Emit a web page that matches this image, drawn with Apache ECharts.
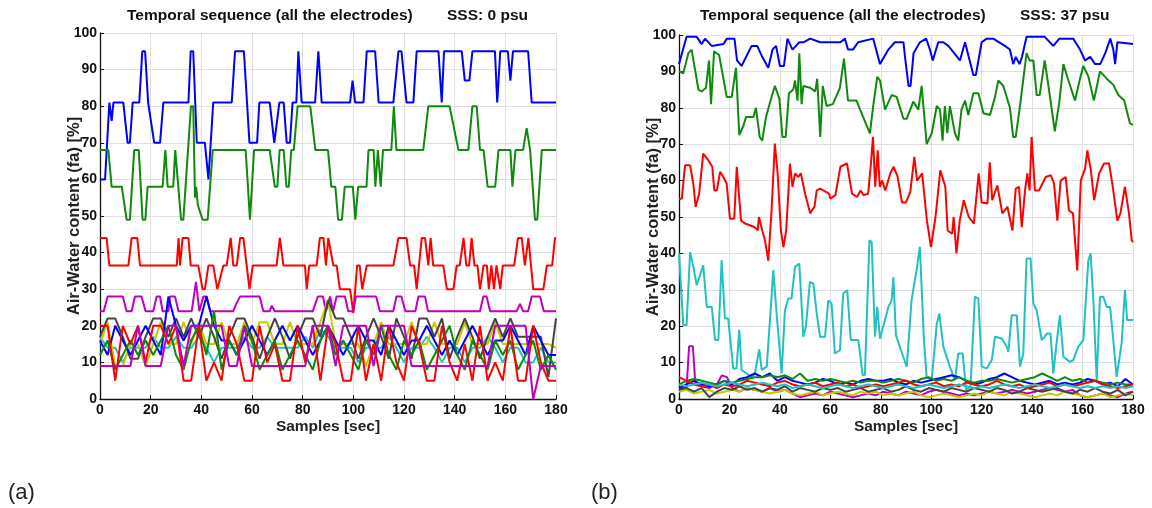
<!DOCTYPE html>
<html>
<head>
<meta charset="utf-8">
<script src="https://cdn.jsdelivr.net/npm/echarts@6/dist/echarts.min.js"></script>
<style>
  html, body { margin: 0; padding: 0; background: #fff; }
  #chart { width: 1152px; height: 508px; }
</style>
</head>
<body>
<div id="chart"></div>
<script>
// ---- panel (a): SSS 0 psu, step-like electrode readings [sec, %] ----
var aBlue = [[0,60],[2,60],[3.7,81],[4.6,76],[5.3,81],[9.2,81],[10.9,70],[11.8,70],[12.9,81],[15.5,81],[16.7,95],[17.8,95],[19,81],[19.7,81],[21.4,70],[23.7,70],[25,81],[34.9,81],[35.8,95],[36.8,95],[38.2,70],[41.4,70],[42.8,60],[44.7,81],[52,81],[53.3,95],[56.8,95],[59,70],[62,70],[62.9,81],[67,81],[68.8,70],[70.8,81],[72.5,81],[73.7,70],[75,70],[76,81],[77.5,81],[78.3,95],[79.6,81],[84.9,81],[86.2,95],[87.5,81],[98.7,81],[99.7,87],[100.7,81],[104,81],[105.3,95],[108.6,95],[110,81],[115.8,81],[117.8,95],[119,95],[121,81],[123.7,81],[125,95],[133.6,95],[134.9,81],[135.8,95],[142.8,95],[144,87],[145.8,87],[147,95],[155.9,95],[156.8,81],[158,95],[161,95],[162,87],[163,95],[169,95],[170.4,81],[180,81]];
var aGreen = [[0,68],[3.3,68],[4.6,58],[8.6,58],[10.5,49],[11.8,49],[13.5,68],[15.3,68],[16.8,49],[17.9,49],[18.8,58],[24.7,58],[25.8,68],[26.7,58],[28.9,58],[29.7,68],[32,49],[32.9,49],[35.9,80],[36.8,80],[37.5,55],[38,58],[38.6,53],[40.5,49],[42.5,49],[44.5,68],[57.5,68],[59.2,49],[60.8,68],[67,68],[69,58],[70,58],[70.9,68],[72.5,68],[73.6,58],[74.5,58],[75.5,68],[76.5,68],[78,80],[83,80],[85,68],[90,68],[91.3,58],[92.9,58],[94,49],[95.5,49],[96.6,58],[99.8,58],[100.8,49],[101.9,58],[105.2,58],[106,68],[108,68],[108.7,58],[109.7,68],[110.3,68],[110.8,58],[111.7,68],[115,68],[116,80],[117,68],[127.6,68],[129.6,80],[138,80],[141.5,68],[145.4,68],[147,80],[148.7,80],[150,68],[151.4,68],[153,58],[156,58],[157.3,68],[162,68],[162.8,58],[164,68],[167,68],[168.4,74],[169.8,68],[170.5,68],[171.7,49],[172.6,49],[174.4,68],[180,68]];
var aRed = [[0,44],[2.6,44],[3.7,36.5],[11.2,36.5],[12.5,44],[14.7,44],[15.8,36.5],[30.3,36.5],[31,44],[31.6,36.5],[32.6,44],[34.9,44],[35.8,36.5],[38.8,36.5],[40.5,30],[41.4,30],[42.8,36.5],[44.7,36.5],[46.3,30],[47,30],[48.7,36.5],[50,36.5],[51.6,44],[52.6,36.5],[54,36.5],[55.3,44],[56.6,44],[57.9,36.5],[59,30],[60.3,36.5],[69.7,36.5],[71,44],[72.4,36.5],[80.9,36.5],[81.6,30],[82.6,36.5],[85.5,36.5],[86.8,44],[88.2,44],[89.2,36.5],[90.1,44],[90.8,44],[92.1,36.5],[93.4,36.5],[94.7,30],[98.7,30],[100,23.5],[101.5,36.5],[102.5,36.5],[103.5,30],[105.3,36.5],[115.8,36.5],[117.8,44],[121,44],[122.4,36.5],[124,36.5],[125,30],[125.6,30],[127,44],[128.3,44],[129.6,36.5],[130.5,44],[131.5,36.5],[135.5,36.5],[136.9,30],[139.5,30],[140.8,36.5],[142,36.5],[143.5,44],[144.6,36.5],[145.7,36.5],[146.7,44],[147.8,36.5],[149,36.5],[150,30],[151.4,36.5],[152.7,36.5],[153.5,30],[154.5,36.5],[155.5,30],[156.5,36.5],[158,30],[159,36.5],[163.5,36.5],[165,44],[166.5,44],[167.7,36.5],[169.1,44],[171,30],[175,30],[176.4,36.5],[178.5,36.5],[179.6,44],[180,44]];
var aMagenta = [[0,24],[1.5,24],[3,28],[9,28],[10.5,24],[12.5,24],[13.8,28],[16.4,28],[18,24],[21,24],[22.4,28],[23.7,28],[24.7,24],[27,24],[27.6,28],[29.6,28],[31,24],[36.2,24],[37.9,32],[39.2,24],[40.8,28],[42.1,28],[43.5,24],[52.6,24],[53.8,26],[55.3,28],[63,28],[64.5,24],[67,24],[67.8,25.5],[69,24],[84,24],[86,28],[88,28],[89.2,24],[90.8,28],[92,24],[93.4,28],[96.7,28],[98,24],[100,24],[101,28],[109,28],[110.5,24],[115.8,24],[117,28],[119,28],[120.5,24],[124.5,24],[125.7,28],[128.3,28],[129.5,24],[150,24],[151.3,28],[152.6,28],[154,24],[164.5,24],[165.8,26],[167,24],[169,24],[170.4,28],[173.7,28],[175.2,24],[180,24]];

// panel (a) low cluster, one value every 3 s (0..180)
var aStep = 3;
var aCyan = [17,14,14,10,14,14,14,17,14,14, 17,14,14,17,14,10,14,14,14,17, 14,14,17,14,14,14,14,17,14,19, 17,14,14,14,10,14,14,14,17,14, 10,14,14,17,14,10,14,14,10,14, 14,17,14,10,14,14,10,10,14,10, 10];
var aYellow = [15,21,9,9,15,15,9,15,21,15, 15,21,15,21,15,15,21,15,15,21, 15,21,21,15,15,21,15,15,15,21, 27,15,15,15,15,9,15,21,15,15, 15,21,15,15,21,15,15,15,21,15, 15,15,21,15,15,15,15,15,15,15, 14];
var aBlack = [17,22,22,17,11,11,17,22,22,17, 22,17,22,17,22,17,11,17,22,22, 17,11,17,22,17,11,17,22,22,17, 27,22,22,17,11,17,22,17,11,22, 17,11,22,22,17,22,11,17,22,17, 11,17,22,17,22,17,17,17,17,6, 22];
var aBlue2 = [16,12,20,16,12,16,20,16,12,28, 20,16,20,20,28,20,16,16,12,16, 20,16,12,16,20,16,20,16,12,16, 20,16,12,16,20,16,16,12,20,16, 12,16,16,20,16,12,16,12,16,20, 16,12,16,16,20,16,12,20,16,12, 12];
var aGreen2 = [12,16,8,12,16,12,16,12,16,20, 12,8,16,20,12,24,8,16,12,20, 16,8,12,16,8,12,16,12,8,16, 20,12,16,12,8,16,12,20,12,8, 16,12,16,8,12,16,20,12,8,16, 12,8,16,12,16,8,12,16,8,12, 8];
var aRed2 = [20,20,5,20,15,20,10,20,20,15, 20,5,5,20,5,10,5,20,15,5, 5,20,10,15,5,5,20,10,20,5, 20,15,5,5,20,5,15,5,20,10, 5,20,15,5,5,20,10,5,15,5, 20,5,10,5,20,5,5,20,10,5, 5];
var aMagenta2 = [9,9,9,9,9,20,9,9,9,20, 20,9,20,20,20,20,20,9,9,20, 9,9,9,9,9,9,9,9,20,20, 20,9,20,20,20,20,9,20,20,20, 20,9,9,9,9,9,9,9,9,9, 9,9,20,20,20,20,20,0,9,9, 9];

// ---- panel (b): SSS 37 psu ----
var bBlue = [[0,92],[0.7,92.5],[3,99.5],[7,99.5],[9,97.5],[10.3,99],[13,97],[17.6,97.5],[19,99],[22,99],[23,93],[24.8,91.5],[28.8,97],[31,97],[33,94],[35.4,91],[37.1,96],[38.5,97],[40,91.5],[41.6,91.5],[43,99],[45,96],[47.7,98],[49.3,98],[52,99],[56,98],[64,98],[65.8,99],[67,96],[69,96],[71,98],[77,99],[79.7,92],[83,96],[85.6,98],[89,98],[89.6,94],[91,86],[91.8,86],[93,95],[95.5,98],[98,99],[99.5,96],[100.6,93],[102.8,98],[104.8,98],[106.8,97],[111.4,93],[113.4,98],[116.7,89],[117.7,89],[120,98],[122,99],[124.6,99],[129.2,97],[131.2,96],[132.5,92],[133.5,94],[135,92],[136,94],[137.8,99.5],[145,99.5],[148.4,97],[150.8,99],[156.3,99],[159,96],[161,93],[163,94],[165,92],[167,92],[169,95],[171,99],[172.2,96],[172.9,92],[173.8,98],[180,97.5]];
var bGreen = [[0,90],[0.7,90],[1.7,89.5],[3.7,95],[5,96],[7.7,85],[9,84.5],[10.7,85.5],[11.9,93],[12.7,81],[13.9,95.5],[15.9,94.5],[17.6,88],[18.9,83],[20.9,83],[22.6,91],[23.9,72.5],[25.5,75],[26.6,77.5],[29.5,77.5],[30.5,80],[32,72],[33,71],[34.5,77.5],[36.3,82],[38,86],[39.8,82.5],[41,72],[42.3,72],[43.6,84],[45.3,85],[46,87.5],[47,82],[47.7,95],[48.6,81],[49.3,86],[52,85.5],[54,84.5],[54.8,88],[56,72],[57,86],[58.5,80.5],[61,81],[63.8,85.5],[65.4,93.5],[67,82],[70.4,82],[71.8,79.5],[73,77.5],[75.7,73],[77,80.5],[78.6,88.5],[79.7,87.5],[81.7,79.5],[84.3,83.5],[86.3,83],[89,77],[90.3,77],[92.9,81.7],[94.9,79.5],[96.2,86],[98.2,70],[100.2,73],[102.2,80.5],[103.5,79.5],[104.5,71],[105.4,80.5],[106.4,73],[107.4,80.5],[109.4,73],[110.7,71],[112,79.5],[113.4,82],[114.7,78],[116.7,84],[118.7,84],[120.7,78.5],[123.3,78],[125.3,83],[126.6,87.5],[128.6,86],[131.2,80],[132.5,72],[133.5,72],[135.2,80.5],[137.8,95],[139,93],[140.5,93],[141.8,83.5],[143,83.5],[145,93],[147,83.5],[149,73.5],[150.8,81.7],[152.4,92],[154.4,87.5],[157,82],[159,88],[160.3,91.5],[162.3,88.6],[164.5,82],[166.9,90],[169.6,88],[172.2,86.3],[174.2,83.5],[176.5,82],[178.8,75.7],[180,75.3]];
var bRed = [[0,55],[1.1,55],[2.4,64.2],[4.4,64.2],[5.7,59],[6.6,52.8],[8,56.4],[9.6,67.4],[11.6,65.6],[13.2,63.8],[14,57.3],[15,57.3],[16.3,62.4],[17.6,61],[18.9,59.2],[20.2,49.5],[21.9,49.5],[22.9,63.8],[24.6,49],[26.2,48.2],[30.1,47.2],[31.2,46.3],[31.7,50],[33,46.3],[34.1,43.6],[35.4,38],[36.7,51.8],[38,70.2],[39.1,62],[40.4,46.3],[41.4,41.7],[42.5,46.3],[44,64.7],[45,58.3],[46,62],[47.3,61],[48.3,62],[50,56.4],[52,51],[53.7,52.8],[54.6,57.3],[56,57.8],[57.2,57.3],[59.5,56.4],[60,55],[62,56],[64,63.8],[66.6,64.7],[68.6,56.4],[70.6,55.5],[72,57.3],[73.2,56],[75,56.4],[76.1,64.7],[76.9,72],[77.8,58.3],[78.8,68.3],[79.6,58.3],[80.5,60],[81.8,57.3],[83.8,62],[85.1,63.8],[86.7,61],[88.4,54],[90,54],[91.7,56.9],[93.3,66.5],[94.4,60],[96.4,62],[98.3,49],[99.9,41.7],[101.7,50],[103.6,62.8],[105.6,58.3],[106.5,46.3],[108.3,45.4],[108.9,50],[110,40],[111.3,49],[112.9,54.6],[114.9,50],[116.9,48.2],[118.8,62],[120,54],[122.3,53.7],[123.2,65],[124.2,54.6],[126.2,58.7],[128.2,51],[130.2,52.8],[132.2,46.3],[133.5,57.8],[134.8,58.3],[135.9,47.2],[137.2,57.3],[138.1,62],[139,57.3],[139.8,72],[141.1,57.3],[142.7,57.3],[145.4,61],[147.4,61.5],[148.7,59.2],[150,49],[151.3,60],[153.3,61],[154.6,51.8],[156.2,51],[157.9,35.3],[159.3,60],[161,63.3],[161.9,68.3],[163.3,62.8],[164.6,54.6],[166.6,62],[168.5,64.7],[170.5,64.7],[171.8,59.2],[173.8,49],[175,51],[176.8,58.3],[178.4,51],[179.5,43.6],[180,43.1]];
var bCyan = [[0,40],[0.4,40],[1.7,20.3],[3,20.3],[4.4,40.4],[5.7,36.3],[7,31.3],[8.3,34],[9.6,36.7],[11,25.3],[13,25.3],[14.3,16.2],[15.6,16.2],[16.9,38.1],[18.2,22.1],[19.5,22.1],[21.5,8.4],[22.8,8.4],[23.9,19],[24.8,8],[26.8,7],[28.8,6],[30.1,7],[31.8,13.6],[32.8,8],[34.8,8.9],[37.4,35.4],[38.7,23.5],[40.7,7],[42,24.4],[43.3,27.6],[44.6,27.6],[46,36.3],[47.7,37.2],[49.3,17.1],[50.3,19.8],[51.9,32.2],[53.3,31.7],[54.6,23.5],[55.9,17.1],[57.9,17.1],[59.2,27.1],[60.5,26.2],[61.8,12.5],[63.8,13.4],[65.1,29],[66.7,29.9],[68.1,16.2],[71.1,16.2],[72.8,6.6],[73.7,6.6],[75.5,43.6],[76.4,43.1],[77.7,17.1],[78.6,25.3],[79.7,16.6],[83,25.3],[84.3,27.1],[85,33.5],[86,17.6],[88.9,11.6],[90.3,8.9],[92.2,27.1],[94.2,35.4],[95.5,41.8],[97.1,16.2],[98.2,6],[100.2,5.2],[102.2,20.7],[103.2,23.5],[104.8,14.4],[107.4,8.9],[109.4,5.2],[110.7,12.5],[112.5,12.5],[113.8,2.5],[115.6,3.4],[117.3,28.1],[118.7,27.6],[120,8.9],[122,8.4],[124,10.7],[125.3,17.1],[128,16.6],[129.9,14.4],[130.6,13],[131.9,23],[133.9,23],[135.2,8.9],[136.5,12.5],[137.8,38.6],[139.4,38.6],[140.5,26.2],[141.8,24.4],[143.8,16.2],[146,18],[147.3,18],[148.4,7],[149.7,15.3],[151,23],[152.4,11.6],[155,10.2],[156.3,10.7],[158.3,14.4],[160.3,16.2],[162.3,38.1],[163.2,40],[164.3,27.1],[165.6,4.8],[166.9,28.1],[168.2,28.1],[169.6,25.3],[170.9,25.3],[172.2,16.2],[173.5,6],[175.5,15.3],[176.8,29.9],[177.7,21.7],[180,21.7]];
var bMagenta = [[0,3],[3,3],[4,14.5],[5.5,14.5],[6.5,4],[9,3.5],[12,3],[15,4],[17,6.5],[19,6],[21,3],[24,2],[27,3],[30,2.5],[33,2],[36,3],[39,2],[42,2.5],[45,1.5],[48,0.5],[51,1],[54,1.5],[57,1],[60,2],[63,1.5],[66,1],[69,0.5],[72,1],[75,1.5],[78,1],[81,2],[84,1.5],[87,1],[90,2],[93,1.5],[96,1],[99,2],[102,2.5],[105,2],[108,1.5],[111,1],[114,1.5],[117,1],[120,1.5],[123,2],[126,1.5],[129,2],[132,2.5],[135,2],[138,1.5],[141,2],[144,2.5],[147,3],[150,2.5],[153,2],[156,2.5],[159,1],[162,0.5],[165,1],[168,1.5],[171,1],[174,0.5],[177,1.5],[180,2]];

// panel (b) low cluster, one value every 3 s
var bStep = 3;
var bYellow = [2,2.5,1.5,2,2.5,1.5,2,2.5,2,3, 2.5,2,1.5,2,2.5,1.5,1,1.5,2,1, 1.5,2,1.5,1,2,1.5,2,1,1.5,1, 1.5,2,1,0.5,1,1.5,1,0.5,1,1.5, 1,2,1.5,1,2,1.5,1,0.5,1,1.5, 1,2,1.5,1,0.5,1,1.5,0.5,1,1.5, 1];
var bBlack = [2.5,3,2,3,0.5,2,3,2.5,3.5,2.5, 3,2,3,2.5,3.5,2,3,2.5,2,3, 2.5,3,2,2.5,3,2,2.5,3,2,2.5, 3.5,2.5,2,3,2.5,2,3,2.5,2,3, 2.5,2,3,2.5,1.5,2,3,2.5,2,2.5, 3,2,1.5,2.5,2,3,2,1.5,2.5,1, 2];
var bBlue2 = [3,4,5,4,3.5,4,5,4,5.5,6, 7,6,7,5,6,5,4.5,4,4.5,5.5, 5,4,4.5,4,5,5.5,5,5,5.5,4.5, 4,5,4.5,5,5.5,6,6.5,6,5,4, 4.5,5.5,6,7,6,5,4.5,4,4.5,5, 4,4.5,4,4.5,5.5,5,4,4.5,3.5,5.5, 4];
var bGreen2 = [4,5,5.5,5,4.5,4,5,4.5,5,5.5, 6,6,6.5,6,6.5,5.5,7,5,5.5,5, 5.5,5,4.5,5,4.5,5,5,4.5,5,5.5, 5,4.5,5.5,6,5,5.5,5,6,5,4.5, 5,5,5.5,5,4.5,5,5.5,6,7,6, 5,6,5,5.5,4.5,5,4.5,4,4.5,4, 4];
var bRed2 = [6,5,4,3.5,4,3,4,3.5,4,5, 4.5,4,3.5,4.5,5,4,3.5,4,4.5,3.5, 4,4.5,3.5,4,3,3.5,4,3.5,4,4.5, 5,4,3.5,4,4.5,3.5,4,3.5,4.5,4, 3.5,4,5,4,3.5,4,3,3.5,4,4.5, 3.5,4,3.5,4,4.5,5,4,3.5,3,3.5, 4];
var bCyan2 = [4,3.5,4,4.5,4,3.5,4,4.5,4,3.5, 4,4.5,4,3.5,4,3,3.5,4,3.5,3, 3.5,4,3.5,3,3.5,4,3.5,3,3.5,4, 3.5,3,3.5,4,3.5,3,3.5,4,3.5,3, 3.5,3,3.5,4,3.5,3,3.5,4,3.5,3, 3.5,4,3.5,3,3.5,3,3.5,3,3.5,3, 3.5];

var xTicks = { min: 0, max: 180, interval: 20 };
var yTicks = { min: 0, max: 100, interval: 10 };

var C = {
  b: "#0000ff", g: "#0f8a0f", r: "#ff0000", c: "#22c1c1",
  m: "#c000c0", y: "#c8c800", k: "#444444",
};
var FONT = "Liberation Sans, Arial, sans-serif";

function zip(vals, step) {
  return vals.map(function (v, i) { return [i * step, v]; });
}

function line(data, color, idx) {
  return {
    type: "line",
    xAxisIndex: idx,
    yAxisIndex: idx,
    data: data,
    showSymbol: false,
    symbol: "none",
    silent: true,
    lineStyle: { color: color, width: 2 },
    z: 3,
  };
}

function xAxisCfg(idx) {
  return {
    type: "value",
    gridIndex: idx,
    min: xTicks.min,
    max: xTicks.max,
    interval: xTicks.interval,
    name: "Samples [sec]",
    nameLocation: "middle",
    nameGap: 20,
    nameMoveOverlap: false,
    nameTextStyle: { color: "#222", fontSize: 15.5, fontWeight: "bold", fontFamily: FONT },
    axisLine: { show: true, onZero: false, lineStyle: { color: "#111", width: 1.3 } },
    axisTick: { show: true, inside: true, length: 4, lineStyle: { color: "#111" } },
    axisLabel: { color: "#111", fontSize: 14, fontWeight: "bold", fontFamily: FONT, margin: 4 },
    splitLine: { show: true, lineStyle: { color: "#dedede", width: 1 } },
  };
}

function yAxisCfg(idx) {
  return {
    type: "value",
    gridIndex: idx,
    min: yTicks.min,
    max: yTicks.max,
    interval: yTicks.interval,
    name: "Air-Water content (fa) [%]",
    nameLocation: "middle",
    nameGap: 17,
    nameMoveOverlap: false,
    nameTextStyle: { color: "#222", fontSize: 16.5, fontWeight: "bold", fontFamily: FONT },
    axisLine: { show: true, onZero: false, lineStyle: { color: "#111", width: 1.3 } },
    axisTick: { show: true, inside: true, length: 4, lineStyle: { color: "#111" } },
    axisLabel: { color: "#111", fontSize: 14, fontWeight: "bold", fontFamily: FONT, margin: 3 },
    splitLine: { show: true, lineStyle: { color: "#dedede", width: 1 } },
  };
}

var titleStyle = { color: "#111", fontSize: 15.5, fontWeight: "bold", fontFamily: FONT };
var tagStyle = { color: "#222", fontSize: 22, fontWeight: "normal", fontFamily: "Liberation Sans Narrow, Arial Narrow, sans-serif" };

var option = {
  animation: false,
  backgroundColor: "#fff",
  title: [
    { text: "Temporal sequence (all the electrodes)", left: 127, top: 8, padding: 0, textStyle: titleStyle },
    { text: "SSS: 0 psu", left: 447, top: 8, padding: 0, textStyle: titleStyle },
    { text: "Temporal sequence (all the electrodes)", left: 700, top: 8, padding: 0, textStyle: titleStyle },
    { text: "SSS: 37 psu", left: 1020, top: 8, padding: 0, textStyle: titleStyle },
    { text: "(a)", left: 8, top: 482, padding: 0, textStyle: tagStyle },
    { text: "(b)", left: 591, top: 482, padding: 0, textStyle: tagStyle },
  ],
  grid: [
    { left: 100, top: 33, width: 456, height: 366 },
    { left: 679, top: 35, width: 454, height: 364 },
  ],
  xAxis: [xAxisCfg(0), xAxisCfg(1)],
  yAxis: [yAxisCfg(0), yAxisCfg(1)],
  series: [
    line(aBlue, C.b, 0),
    line(aGreen, C.g, 0),
    line(aRed, C.r, 0),
    line(zip(aCyan, aStep), C.c, 0),
    line(aMagenta, C.m, 0),
    line(zip(aYellow, aStep), C.y, 0),
    line(zip(aBlack, aStep), C.k, 0),
    line(zip(aBlue2, aStep), C.b, 0),
    line(zip(aGreen2, aStep), C.g, 0),
    line(zip(aRed2, aStep), C.r, 0),
    line(zip(aMagenta2, aStep), C.m, 0),

    line(bBlue, C.b, 1),
    line(bGreen, C.g, 1),
    line(bRed, C.r, 1),
    line(bCyan, C.c, 1),
    line(bMagenta, C.m, 1),
    line(zip(bYellow, bStep), C.y, 1),
    line(zip(bBlack, bStep), C.k, 1),
    line(zip(bBlue2, bStep), C.b, 1),
    line(zip(bGreen2, bStep), C.g, 1),
    line(zip(bRed2, bStep), C.r, 1),
    line(zip(bCyan2, bStep), C.c, 1),
  ],
};

var myChart = echarts.init(document.getElementById("chart"), null, { renderer: "canvas" });
myChart.setOption(option);
</script>
</body>
</html>
